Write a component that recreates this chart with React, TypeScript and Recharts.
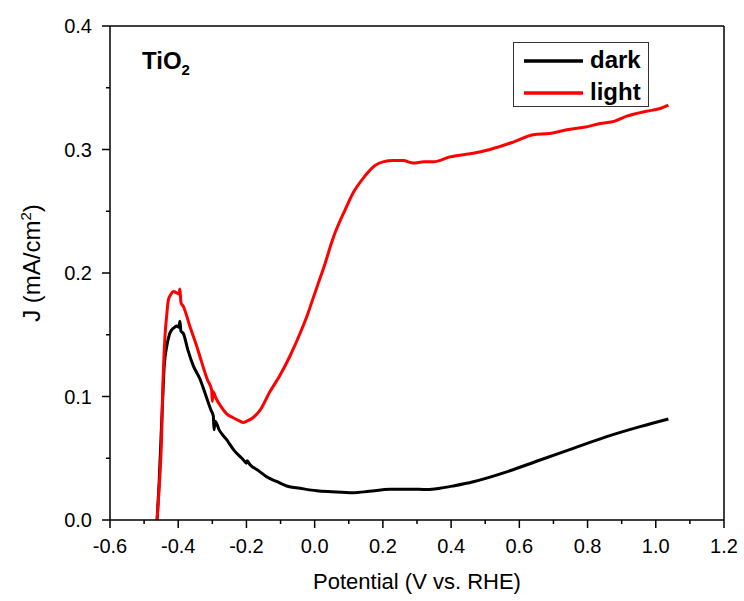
import React from 'react';
import { LineChart, Line, XAxis, YAxis, Legend, ReferenceLine, Label } from 'recharts';

// ---- data ----
const darkPotential = [
  -0.462, -0.456, -0.450, -0.446, -0.441, -0.434, -0.426, -0.419, -0.411, -0.404, -0.398, -0.395, -0.392,
  -0.385, -0.372, -0.356, -0.336, -0.318, -0.304, -0.297, -0.295, -0.292, -0.280, -0.258, -0.235,
  -0.210, -0.200, -0.198, -0.190, -0.165, -0.141, -0.110, -0.082, -0.043, 0.006, 0.050, 0.113,
  0.160, 0.221, 0.280, 0.330, 0.367, 0.410, 0.465, 0.563, 0.661, 0.758, 0.856, 0.954, 1.037,
];
const darkCurrent = [
  0.0, 0.03, 0.07, 0.095, 0.125, 0.140, 0.150, 0.154, 0.156, 0.157, 0.156, 0.161, 0.153,
  0.151, 0.138, 0.125, 0.114, 0.100, 0.089, 0.084, 0.073, 0.080, 0.073, 0.065, 0.056,
  0.049, 0.046, 0.048, 0.045, 0.040, 0.035, 0.031, 0.0275, 0.0257, 0.0237, 0.0229, 0.0221,
  0.0232, 0.0248, 0.0250, 0.0247, 0.0257, 0.0278, 0.031, 0.039, 0.0486, 0.058, 0.0675, 0.0756, 0.0818,
];
const lightPotential = [
  -0.462, -0.455, -0.449, -0.446, -0.439, -0.434, -0.429, -0.421, -0.414, -0.405, -0.398, -0.395, -0.392,
  -0.385, -0.365, -0.346, -0.336, -0.315, -0.302, -0.300, -0.298, -0.290, -0.275, -0.258, -0.240,
  -0.219, -0.210, -0.199, -0.180, -0.160, -0.131, -0.102, -0.072, -0.043, -0.020, -0.009, 0.011, 0.025,
  0.055, 0.089, 0.113, 0.143, 0.177, 0.200, 0.231, 0.260, 0.289, 0.320, 0.348, 0.397, 0.440,
  0.465, 0.514, 0.582, 0.641, 0.690, 0.739, 0.790, 0.837, 0.880, 0.915, 0.973, 1.010, 1.037,
];
const lightCurrent = [
  0.0, 0.03, 0.065, 0.10, 0.148, 0.165, 0.178, 0.183, 0.185, 0.184, 0.183, 0.187, 0.176,
  0.173, 0.156, 0.141, 0.132, 0.114, 0.105, 0.096, 0.104, 0.099, 0.092, 0.086, 0.083,
  0.080, 0.079, 0.080, 0.083, 0.089, 0.104, 0.117, 0.133, 0.151, 0.167, 0.176, 0.192, 0.203,
  0.229, 0.251, 0.265, 0.277, 0.287, 0.290, 0.291, 0.291, 0.289, 0.290, 0.290, 0.294, 0.296,
  0.297, 0.300, 0.306, 0.312, 0.313, 0.316, 0.318, 0.321, 0.323, 0.327, 0.331, 0.333, 0.336,
];

const majorXTicks = [-0.6, -0.4, -0.2, 0.0, 0.2, 0.4, 0.6, 0.8, 1.0, 1.2];
const minorXTicks = [-0.5, -0.3, -0.1, 0.1, 0.3, 0.5, 0.7, 0.9, 1.1];
const majorYTicks = [0.0, 0.1, 0.2, 0.3, 0.4];
const minorYTicks = [0.05, 0.15, 0.25, 0.35];

const seriesNames = ['dark', 'light'];
const seriesColors = ['#000000', '#ff0000'];

const darkData = darkPotential.map((x, i) => ({ x, y: darkCurrent[i] }));
const lightData = lightPotential.map((x, i) => ({ x, y: lightCurrent[i] }));

const FONT = '"Liberation Sans", Arial, sans-serif';

const isMajor = (v: number, list: number[]) => list.some((m) => Math.abs(m - v) < 1e-6);

const XTick = (props: any) => {
  const { x, y, payload } = props;
  const major = isMajor(payload.value, majorXTicks);
  return (
    <g>
      <line x1={x} x2={x} y1={y} y2={y + (major ? 8 : 4)} stroke="#000" strokeWidth={1.5} />
      {major && (
        <text x={x} y={y + 33} textAnchor="middle" fontFamily={FONT} fontSize={20} fill="#000">
          {payload.value.toFixed(1)}
        </text>
      )}
    </g>
  );
};

const YTick = (props: any) => {
  const { x, y, payload } = props;
  const major = isMajor(payload.value, majorYTicks);
  return (
    <g>
      <line x1={x - (major ? 8 : 4)} x2={x} y1={y} y2={y} stroke="#000" strokeWidth={1.5} />
      {major && (
        <text x={x - 18} y={y + 7} textAnchor="end" fontFamily={FONT} fontSize={20} fill="#000">
          {payload.value.toFixed(1)}
        </text>
      )}
    </g>
  );
};

const LegendBox = (props: any) => {
  const { payload } = props;
  return (
    <div
      style={{
        position: 'relative',
        width: 136,
        height: 65,
        border: '1px solid #333',
        boxSizing: 'border-box',
        background: '#fff',
      }}
    >
      {(payload || []).map((entry: any, i: number) => (
        <div key={i} style={{ position: 'absolute', left: 0, top: 0 }}>
          <svg
            width={62}
            height={6}
            style={{ position: 'absolute', left: 9, top: 15 + i * 32 }}
          >
            <line x1={1} x2={60} y1={3} y2={3} stroke={entry.color} strokeWidth={3.5} />
          </svg>
          <span
            style={{
              position: 'absolute',
              left: 76,
              top: 5 + i * 32,
              fontFamily: FONT,
              fontWeight: 'bold',
              fontSize: 24,
              lineHeight: '24px',
              whiteSpace: 'nowrap',
              color: '#000',
            }}
          >
            {entry.value}
          </span>
        </div>
      ))}
    </div>
  );
};

export default function App() {
  return (
    <div style={{ position: 'absolute', left: 0, top: 0, background: '#fff' }}>
      <LineChart
        width={744}
        height={601}
        margin={{ top: 26, right: 20, left: 0, bottom: 0 }}
        style={{ fontFamily: FONT }}
      >
        <XAxis
          type="number"
          dataKey="x"
          domain={[-0.6, 1.2]}
          ticks={[...majorXTicks, ...minorXTicks].sort((a, b) => a - b)}
          interval={0}
          allowDataOverflow
          height={81}
          tickSize={0}
          tickMargin={0}
          tickLine={false}
          tick={<XTick />}
          axisLine={{ stroke: '#000', strokeWidth: 1.5 }}
        >
          <Label
            content={(p: any) => {
              const vb = p.viewBox;
              return (
                <text
                  x={vb.x + vb.width / 2}
                  y={589}
                  textAnchor="middle"
                  fontFamily={FONT}
                  fontSize={22}
                  fill="#000"
                >
                  Potential (V vs. RHE)
                </text>
              );
            }}
          />
        </XAxis>
        <YAxis
          type="number"
          dataKey="y"
          domain={[0, 0.4]}
          ticks={[...majorYTicks, ...minorYTicks].sort((a, b) => a - b)}
          interval={0}
          allowDataOverflow
          width={110}
          tickSize={0}
          tickMargin={0}
          tickLine={false}
          tick={<YTick />}
          axisLine={{ stroke: '#000', strokeWidth: 1.5 }}
        >
          <Label
            content={(p: any) => {
              const vb = p.viewBox;
              const cy = vb.y + vb.height / 2 - 10;
              return (
                <text
                  x={40}
                  y={cy}
                  transform={`rotate(-90, 40, ${cy})`}
                  textAnchor="middle"
                  fontFamily={FONT}
                  fontSize={24}
                  fill="#000"
                >
                  J (mA/cm
                  <tspan dy={-9} fontSize={15}>2</tspan>
                  <tspan dy={9}>)</tspan>
                </text>
              );
            }}
          />
        </YAxis>
        <ReferenceLine y={0.4} stroke="#000" strokeWidth={1.5} ifOverflow="extendDomain" />
        <ReferenceLine x={1.2} stroke="#000" strokeWidth={1.5} ifOverflow="extendDomain" />
        <Line
          data={darkData}
          dataKey="y"
          name={seriesNames[0]}
          stroke={seriesColors[0]}
          strokeWidth={3}
          dot={false}
          type="monotone"
          isAnimationActive={false}
        />
        <Line
          data={lightData}
          dataKey="y"
          name={seriesNames[1]}
          stroke={seriesColors[1]}
          strokeWidth={3}
          dot={false}
          type="monotone"
          isAnimationActive={false}
        />
        <Legend
          layout="vertical"
          align="center"
          verticalAlign="middle"
          content={<LegendBox />}
          wrapperStyle={{ position: 'absolute', left: 513, top: 42, width: 136, height: 65 }}
        />
        <text x={142} y={69} fontFamily={FONT} fontWeight="bold" fontSize={24} fill="#000">
          TiO
          <tspan dy={6} fontSize={15}>2</tspan>
        </text>
      </LineChart>
    </div>
  );
}
